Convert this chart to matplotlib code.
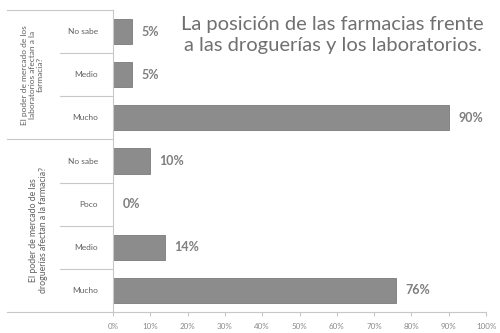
import matplotlib.pyplot as plt

# Respuestas por grupo (de arriba hacia abajo)
categorias = ['No sabe', 'Medio', 'Mucho', 'No sabe', 'Poco', 'Medio', 'Mucho']
valores = [5, 5, 90, 10, 0, 14, 76]
grupos = ['El poder de mercado de los\nlaboratorios afectan a la\nfarmacia?',
          'El poder de mercado de las\ndroguerías afectan a la farmacia?']
titulo = 'La posición de las farmacias frente\na las droguerías y los laboratorios.'

plt.rcParams['font.family'] = ['Lato', 'DejaVu Sans']
gris = '#7f7f7f'
linea = '#c8c8c8'

fig = plt.figure(figsize=(5, 3.33), dpi=100)
ax = fig.add_axes([0.226, 0.063, 0.746, 0.907])

y = list(range(len(categorias)))
ax.barh(y, valores, height=0.58, color='#8c8c8c', edgecolor='#7a7a7a', linewidth=0.6)
for yi, v in zip(y, valores):
    ax.text(v + 2.5, yi, f'{v}%', va='center', ha='left', fontsize=9,
            fontweight='bold', color=gris)

ax.set_xlim(0, 100)
ax.set_ylim(len(categorias) - 0.5, -0.5)
ax.set_xticks(range(0, 101, 10))
ax.set_xticklabels([f'{t}%' for t in range(0, 101, 10)], fontsize=5.8, color='#8a8a8a')
ax.tick_params(axis='x', length=3, color=linea, pad=5)
ax.set_yticks([])
for yi, c in zip(y, categorias):
    ax.text(-0.04, yi, c, transform=ax.get_yaxis_transform(), ha='right',
            va='center', fontsize=6, color='#606060')

for s in ['top', 'right']:
    ax.spines[s].set_visible(False)
ax.spines['left'].set_color(linea)
ax.spines['bottom'].set_color(linea)

# separadores entre categorías y entre grupos
tr = ax.get_yaxis_transform()
for sep in [0.5, 1.5, 3.5, 4.5, 5.5]:
    ax.plot([-0.142, 0], [sep, sep], transform=tr, color=linea, lw=0.8, clip_on=False)
for sep in [-0.5, 2.5, 6.5]:
    ax.plot([-0.285, 0], [sep, sep], transform=tr, color=linea, lw=0.8, clip_on=False)

ax.text(-0.215, 1.0, grupos[0], transform=tr, rotation=90, ha='center', va='center',
        fontsize=6, color='#606060', linespacing=1.15)
ax.text(-0.2, 4.6, grupos[1], transform=tr, rotation=90, ha='center', va='center',
        fontsize=6.3, color='#606060', linespacing=1.15)

fig.text(0.665, 0.895, titulo, ha='center', va='center', fontsize=14.5,
         color='#707070', linespacing=1.25)

fig.savefig('out.png', dpi=100)
